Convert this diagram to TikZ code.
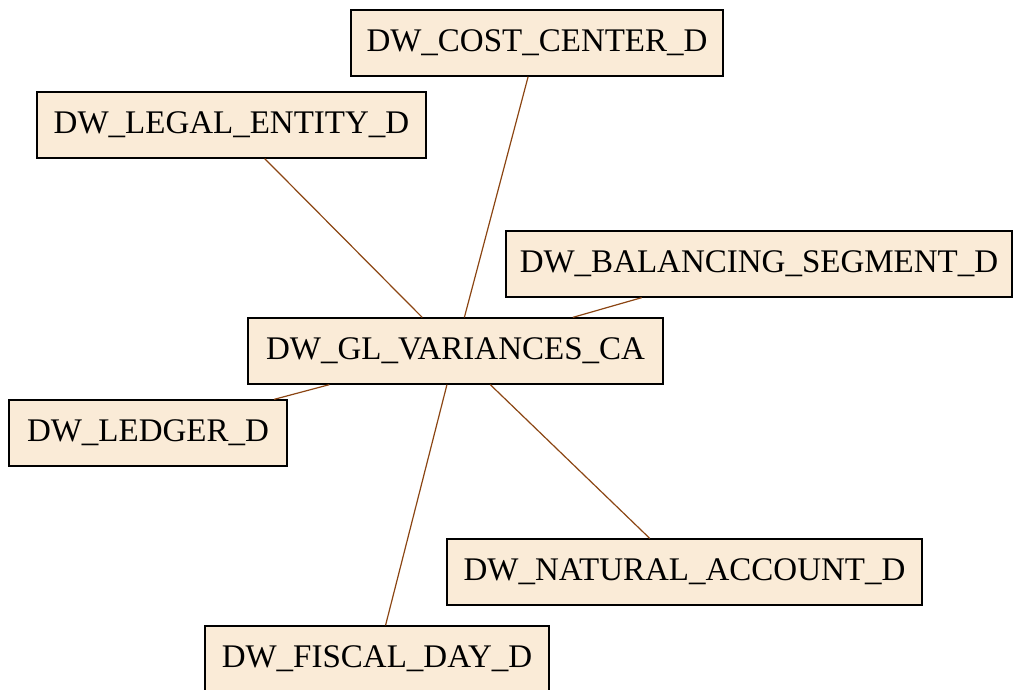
\documentclass[tikz,border=0pt]{standalone}
\usepackage{fontspec}
\setmainfont{Liberation Serif}
\definecolor{boxfill}{HTML}{FAEBD7}
\definecolor{edgecol}{HTML}{8B4513}
\begin{document}
\begin{tikzpicture}[x=1pt,y=-1pt,
  tbl/.style={draw=black,line width=1.3pt,fill=boxfill,inner sep=0pt,minimum height=66pt,font=\fontsize{33}{36}\selectfont},
  rel/.style={draw=edgecol,line width=1.2pt}]
\useasboundingbox (0,0) rectangle (1013,689);
\begin{scope}
\clip (0,0) rectangle (1013,689);
\node[tbl,minimum width=372pt] (cost) at (537,43) {DW\_COST\_CENTER\_D};
\node[tbl,minimum width=389pt] (legal) at (231.5,125) {DW\_LEGAL\_ENTITY\_D};
\node[tbl,minimum width=506pt] (bal) at (759,264) {DW\_BALANCING\_SEGMENT\_D};
\node[tbl,minimum width=415pt] (gl) at (455.5,351) {DW\_GL\_VARIANCES\_CA};
\node[tbl,minimum width=278pt] (ledger) at (148,433) {DW\_LEDGER\_D};
\node[tbl,minimum width=475pt] (nat) at (684.5,572) {DW\_NATURAL\_ACCOUNT\_D};
\node[tbl,minimum width=344pt] (fisc) at (377,659) {DW\_FISCAL\_DAY\_D};
\draw[rel] (gl) -- (cost);
\draw[rel] (gl) -- (legal);
\draw[rel] (gl) -- (bal);
\draw[rel] (gl) -- (ledger);
\draw[rel] (gl) -- (nat);
\draw[rel] (gl) -- (fisc);
\end{scope}
\end{tikzpicture}
\end{document}
